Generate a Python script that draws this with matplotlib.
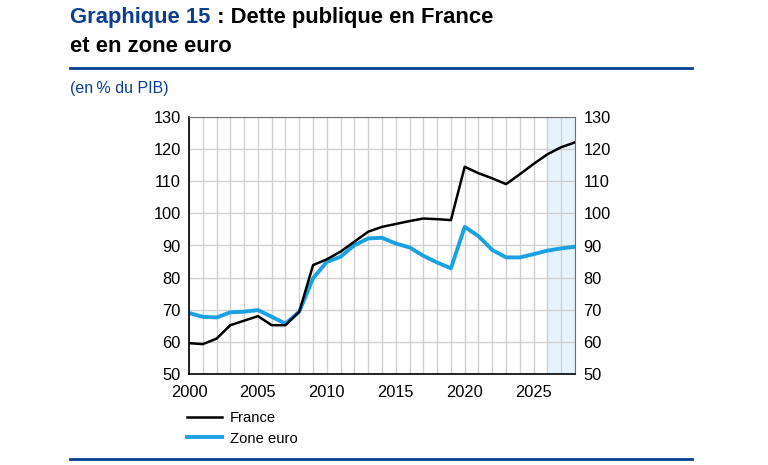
import matplotlib
matplotlib.use("Agg")
import matplotlib.pyplot as plt
from matplotlib.lines import Line2D

plt.rcParams['font.family'] = ['Liberation Sans', 'DejaVu Sans']

# Dette publique (en % du PIB)
years = list(range(2000, 2029))
france = [59.6, 59.3, 61.0, 65.2, 66.6, 68.0, 65.2, 65.2, 69.4, 83.9,
          85.7, 88.1, 91.2, 94.3, 95.8, 96.7, 97.6, 98.4, 98.2, 97.9,
          114.5, 112.5, 110.9, 109.1, 112.2, 115.4, 118.4, 120.6, 122.1]
zone_euro = [69.0, 67.8, 67.6, 69.2, 69.4, 69.9, 67.8, 65.7, 69.4, 79.8,
             84.9, 86.5, 90.1, 92.2, 92.4, 90.6, 89.4, 86.8, 84.7, 82.9,
             95.8, 92.9, 88.6, 86.3, 86.3, 87.3, 88.4, 89.1, 89.6]
forecast_start, forecast_end = 2026, 2028

blue_title = '#0b3d91'
blue_line = '#1ba1e2'

fig = plt.figure(figsize=(7.68, 4.65), dpi=100)
ax = fig.add_axes([189/768, 1-374/465, (575-189)/768, (374-117)/465])

ax.axvspan(forecast_start, forecast_end, color='#e6f3fc', zorder=0)
for yr in years:
    ax.axvline(yr, color='#d0d0d0', lw=1, zorder=1)
for v in range(50, 131, 10):
    ax.axhline(v, color='#d0d0d0', lw=1, zorder=1)

ax.plot(years, france, color='black', lw=1.8, zorder=3)
ax.plot(years, zone_euro, color=blue_line, lw=2.8, zorder=2)

ax.set_xlim(2000, 2028)
ax.set_ylim(50, 130)
ax.set_xticks(range(2000, 2026, 5))
ax.set_yticks(range(50, 131, 10))
ax.tick_params(length=0, labelsize=11.8)
ax.tick_params(axis='x', pad=8)
ax.tick_params(axis='y', labelright=True, pad=6)
for s in ['left', 'bottom']:
    ax.spines[s].set_color('black')
    ax.spines[s].set_linewidth(1.2)
for s in ['top', 'right']:
    ax.spines[s].set_color('#707070')
    ax.spines[s].set_linewidth(0.8)

handles = [Line2D([], [], color='black', lw=1.8),
           Line2D([], [], color=blue_line, lw=2.8)]
fig.legend(handles, ['France', 'Zone euro'], loc='upper left',
           bbox_to_anchor=(181/768, 1-405/465), frameon=False,
           fontsize=10.6, handlelength=2.4, handletextpad=0.5,
           labelspacing=0.45, borderaxespad=0)

# titre
fig.text(70/768, 1-18/465, 'Graphique 15', color=blue_title, fontsize=15.8,
         fontweight='bold', va='center', ha='left')
fig.text(211/768, 1-18/465, ' : Dette publique en France', color='black',
         fontsize=15.8, fontweight='bold', va='center', ha='left')
fig.text(70/768, 1-47/465, 'et en zone euro', color='black', fontsize=15.8,
         fontweight='bold', va='center', ha='left')
fig.add_artist(Line2D([70/768, 692/768], [1-68/465, 1-68/465],
                      color=blue_title, lw=2))
fig.text(70/768, 1-89/465, '(en\u202f% du PIB)', color=blue_title,
         fontsize=11.5, va='center', ha='left')
fig.add_artist(Line2D([70/768, 692/768], [1-459/465, 1-459/465],
                      color=blue_title, lw=2))

fig.savefig('out.png', dpi=100)
